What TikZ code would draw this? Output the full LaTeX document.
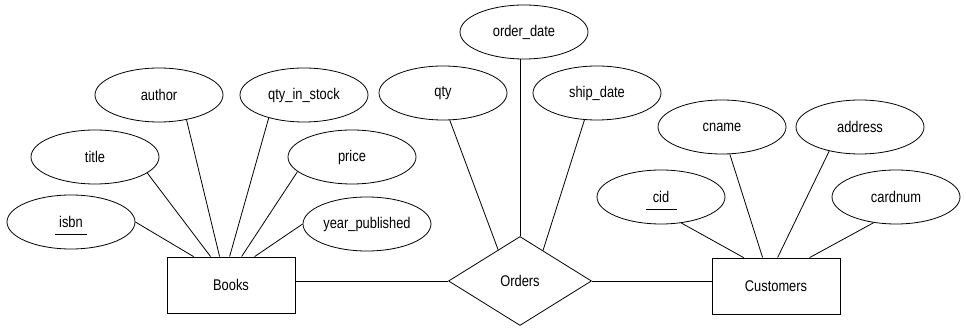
\documentclass[tikz,border=0pt]{standalone}
\usepackage{fontspec}
\setmainfont{Liberation Sans}[FakeStretch=0.83]
\usetikzlibrary{shapes.geometric}

\begin{document}
\begin{tikzpicture}[
		x=1pt, y=-1pt,
		font=\fontsize{15.5}{18}\selectfont,
		e/.style = {rectangle, draw, line width=0.8pt, minimum width=128pt, minimum height=56pt},
		a/.style = {ellipse, draw, line width=0.8pt, minimum width=128pt, minimum height=54pt, inner sep=0pt},
		rl/.style = {diamond, draw, line width=0.8pt, minimum width=143pt, minimum height=89pt, inner sep=0pt},
		l/.style = {line width=0.8pt},
		u/.style = {line width=0.8pt}
		]
		\useasboundingbox (0,0) rectangle (966,328);
		
		% === === Nodes === ===
		\node[e]	(books)		at	(231, 285)		{Books};
		\node[rl]	(orders)	at	(520, 281)		{Orders};
		\node[e]	(cust)		at	(776, 286)		{Customers};
		
		\node[a]	(isbn)		at	(71, 222)		{isbn};
		\node[a]	(title)		at	(95, 157)		{title};
		\node[a]	(author)	at	(159, 95)		{author};
		\node[a]	(stock)		at	(304, 95)		{qty\_in\_stock};
		\node[a]	(price)		at	(352, 157)		{price};
		\node[a]	(year)		at	(367, 224)		{year\_published};
		
		\node[a]	(odate)		at	(524, 32)		{order\_date};
		\node[a]	(qty)		at	(443, 93)		{qty};
		\node[a]	(sdate)		at	(597, 93)		{ship\_date};
		
		\node[a]	(cid)		at	(661, 197)		{cid};
		\node[a]	(cname)		at	(722, 127)		{cname};
		\node[a]	(addr)		at	(860, 127)		{address};
		\node[a]	(card)		at	(896, 197)		{cardnum};
		
		% keys
		\draw[u]	([xshift=-16pt, yshift=-12pt]isbn.center)	-- ++(32, 0);
		\draw[u]	([xshift=-15pt, yshift=-12pt]cid.center)	-- ++(31, 0);
		
		% === === Lines === ===
		\draw[l]	(isbn.east)		--	([xshift=27pt]books.north west);
		\draw[l]	(title.-17)		--	([xshift=44pt]books.north west);
		\draw[l]	(author.-42)	--	([xshift=53pt]books.north west);
		\draw[l]	(stock.-147)	--	([xshift=63pt]books.north west);
		\draw[l]	(price.-165)	--	([xshift=75pt]books.north west);
		\draw[l]	(year.west)		--	([xshift=88pt]books.north west);
		
		\draw[l]	(qty.-76)		--	(orders.125);
		\draw[l]	(orders.north)	--	(orders.north |- odate.south);
		\draw[l]	(sdate.-115)	--	(orders.53);
		
		\draw[l]	(cid.-52)		--	([xshift=32pt]cust.north west);
		\draw[l]	(cname.-74)		--	([xshift=51pt]cust.north west);
		\draw[l]	(addr.-142)		--	([xshift=66pt]cust.north west);
		\draw[l]	(card.-131)		--	([xshift=98pt]cust.north west);
		
		\draw[l]	(books.east |- orders.west)	--	(orders.west);
		\draw[l]	(orders.east)	--	(orders.east -| cust.west);
		
	\end{tikzpicture}
\end{document}
